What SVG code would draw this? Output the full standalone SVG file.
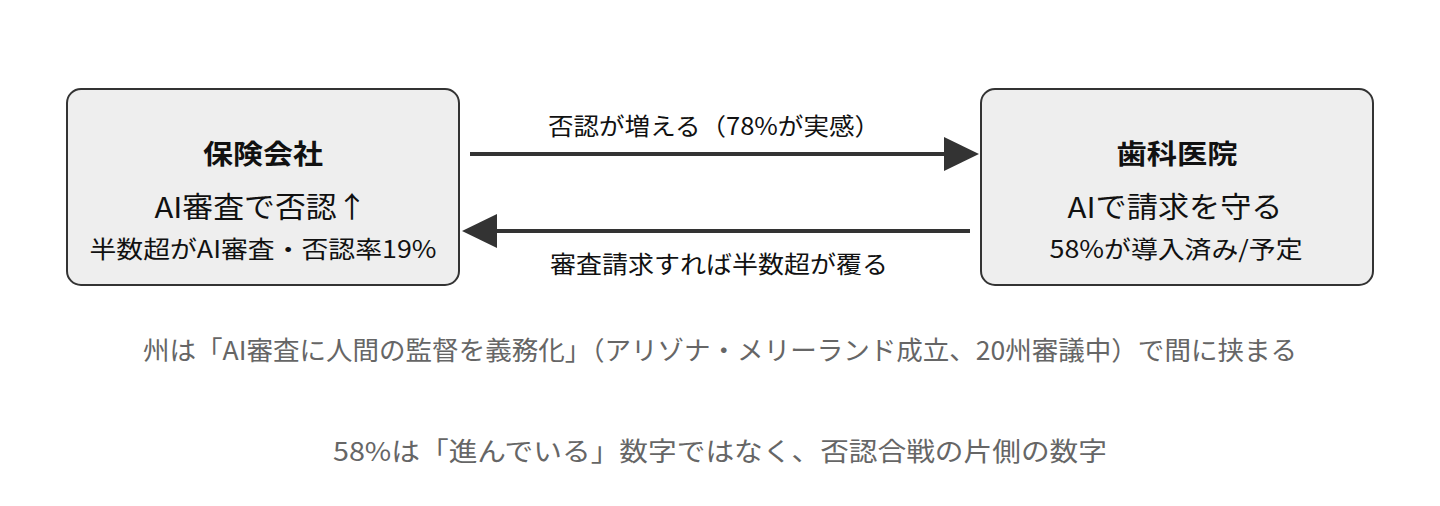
<svg xmlns="http://www.w3.org/2000/svg" width="1440" height="506" viewBox="0 0 1440 506">
<style>
text{font-family:"Noto Sans CJK JP","Noto Sans",sans-serif;text-anchor:middle;fill:#111}
.box{fill:#eeeeee;stroke:#333;stroke-width:2}
.t{font-size:27px;font-weight:bold}
.m{font-size:29px}
.s{font-size:24px}
.l{font-size:24px}
.f{font-size:26px;fill:#666}
.c{stroke:#333;stroke-width:4}
</style>
<rect width="1440" height="506" fill="#fff"/>
<g id="insurer">
<rect class="box" x="67" y="89" width="392" height="196" rx="14"/>
<text class="t" x="263" y="164" textLength="120" lengthAdjust="spacingAndGlyphs">保険会社</text>
<text class="m" x="261" y="218" textLength="213" lengthAdjust="spacingAndGlyphs">AI審査で否認↑</text>
<text class="s" x="263" y="258" textLength="347" lengthAdjust="spacingAndGlyphs">半数超がAI審査・否認率19%</text>
</g>
<g id="clinic">
<rect class="box" x="981" y="89" width="392" height="196" rx="14"/>
<text class="t" x="1177" y="164" textLength="121" lengthAdjust="spacingAndGlyphs">歯科医院</text>
<text class="m" x="1175" y="218" textLength="215" lengthAdjust="spacingAndGlyphs">AIで請求を守る</text>
<text class="s" x="1176" y="258" textLength="253" lengthAdjust="spacingAndGlyphs">58%が導入済み/予定</text>
</g>
<g id="connectors">
<line class="c" x1="470" y1="154" x2="945" y2="154"/>
<path d="M944,137L979,154L944,171z" fill="#333"/>
<line class="c" x1="970" y1="231" x2="496" y2="231"/>
<path d="M497,214L462,231L497,248z" fill="#333"/>
<text class="l" x="714" y="135" textLength="332" lengthAdjust="spacingAndGlyphs">否認が増える（78%が実感）</text>
<text class="l" x="719" y="273" textLength="338" lengthAdjust="spacingAndGlyphs">審査請求すれば半数超が覆る</text>
</g>
<text class="f" x="720" y="360" textLength="1154" lengthAdjust="spacingAndGlyphs">州は「AI審査に人間の監督を義務化」（アリゾナ・メリーランド成立、20州審議中）で間に挟まる</text>
<text class="f" x="720" y="461" textLength="774" lengthAdjust="spacingAndGlyphs">58%は「進んでいる」数字ではなく、否認合戦の片側の数字</text>
</svg>
